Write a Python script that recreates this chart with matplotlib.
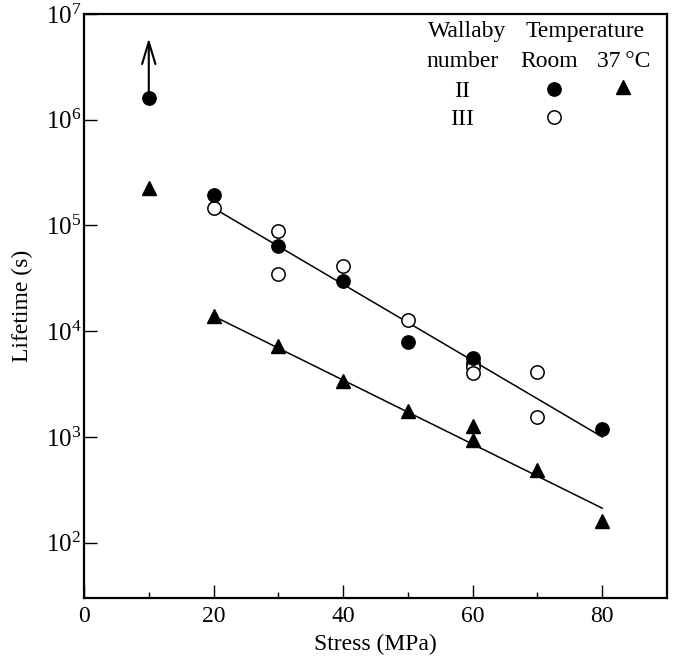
import matplotlib
matplotlib.use('Agg')
import matplotlib.pyplot as plt
import matplotlib.transforms as mtransforms
from matplotlib.ticker import FixedLocator, NullLocator

plt.rcParams['font.family'] = ['Liberation Serif', 'DejaVu Serif']
plt.rcParams['mathtext.fontset'] = 'custom'
plt.rcParams['mathtext.rm'] = 'Liberation Serif'
plt.rcParams['mathtext.it'] = 'Liberation Serif:italic'

# Wallaby II, room temperature (filled circles)
room_ii_stress = [10, 20, 30, 40, 50, 60, 80]
room_ii_life = [1.6e6, 1.94e5, 6.4e4, 3.0e4, 7.9e3, 5.6e3, 1.2e3]

# Wallaby III, room temperature (open circles)
room_iii_stress = [20, 30, 30, 40, 50, 60, 60, 60, 70, 70]
room_iii_life = [1.46e5, 8.9e4, 3.5e4, 4.1e4, 1.27e4, 5.0e3, 4.6e3, 4.0e3, 4.1e3, 1.54e3]

# Wallaby II, 37 C (triangles)
warm_stress = [10, 20, 30, 40, 50, 60, 60, 70, 80]
warm_life = [2.26e5, 1.39e4, 7.2e3, 3.4e3, 1.75e3, 1.26e3, 933, 485, 160]

# trend lines (end points)
fit_stress = [20, 80]
fit_room = [1.46e5, 1.0e3]
fit_warm = [1.39e4, 2.12e2]

# run-out specimen that did not fail
runout_stress = 10
runout_life = [1.6e6, 5.9e6]

x_ticks = [0, 20, 40, 60, 80]
x_minor = [10, 30, 50, 70]
y_exponents = [2, 3, 4, 5, 6, 7]

fs = 17

fig = plt.figure(figsize=(6.73, 6.59), dpi=100)
ax = fig.add_axes([0.1248, 0.0926, 0.8663, 0.8862])

ax.set_yscale('log')
ax.set_xlim(0, 90)
ax.set_ylim(30, 1e7)

ax.plot(fit_stress, fit_room, color='black', lw=1.1)
ax.plot(fit_stress, fit_warm, color='black', lw=1.1)

ms = 9.6
ax.plot(room_iii_stress, room_iii_life, 'o', ms=ms, mfc='white', mec='black', mew=1.1, ls='none')
ax.plot(room_ii_stress, room_ii_life, 'o', ms=ms, mfc='black', mec='black', ls='none')
ax.plot(warm_stress, warm_life, '^', ms=ms, mfc='black', mec='black', ls='none')

ax.annotate('', xy=(runout_stress, runout_life[1]), xytext=(runout_stress, runout_life[0]),
            arrowprops=dict(arrowstyle='->,head_length=0.8,head_width=0.24',
                            color='black', lw=1.5, mutation_scale=20,
                            shrinkA=0, shrinkB=0))

# axes styling
for s in ax.spines.values():
    s.set_linewidth(1.6)
ax.xaxis.set_major_locator(FixedLocator(x_ticks))
ax.xaxis.set_minor_locator(FixedLocator(x_minor))
ax.yaxis.set_major_locator(FixedLocator([10.0 ** e for e in y_exponents]))
ax.yaxis.set_minor_locator(NullLocator())
ax.set_yticklabels([])
ax.tick_params(axis='x', which='major', direction='in', length=9.5, width=1.0,
               labelsize=fs, pad=6, top=False)
ax.tick_params(axis='x', which='minor', direction='in', length=4.5, width=1.0, top=False)
ax.tick_params(axis='y', which='major', direction='in', length=9.5, width=1.0, right=False)

# decade labels: the "10" sits centred on the tick, exponent raised above it
ylab_tr = mtransforms.blended_transform_factory(ax.transAxes, ax.transData) + \
    mtransforms.ScaledTranslation(-2 / 72, -7 / 72, fig.dpi_scale_trans)
for e in y_exponents:
    ax.text(0, 10.0 ** e, r'$10^{%d}$' % e, transform=ylab_tr,
            ha='right', va='baseline', fontsize=fs + 1)

ax.set_xlabel('Stress (MPa)', fontsize=fs, labelpad=5)
ax.set_ylabel('Lifetime (s)', fontsize=fs)
ax.yaxis.set_label_coords(-0.088, 0.5)

# key in the upper right corner
tr = ax.transAxes
ax.text(0.657, 0.961, 'Wallaby', transform=tr, ha='center', va='baseline', fontsize=fs)
ax.text(0.859, 0.961, 'Temperature', transform=tr, ha='center', va='baseline', fontsize=fs)
ax.text(0.650, 0.909, 'number', transform=tr, ha='center', va='baseline', fontsize=fs)
ax.text(0.798, 0.909, 'Room', transform=tr, ha='center', va='baseline', fontsize=fs)
ax.text(0.925, 0.909, '37\u2009\u00b0C', transform=tr, ha='center', va='baseline', fontsize=fs)
ax.text(0.648, 0.872, 'II', transform=tr, ha='center', va='center_baseline', fontsize=fs)
ax.text(0.648, 0.824, 'III', transform=tr, ha='center', va='center_baseline', fontsize=fs)
ax.plot([0.806], [0.872], 'o', ms=ms, mfc='black', mec='black', transform=tr)
ax.plot([0.925], [0.875], '^', ms=ms, mfc='black', mec='black', transform=tr)
ax.plot([0.806], [0.824], 'o', ms=ms, mfc='white', mec='black', mew=1.1, transform=tr)

fig.savefig('out.png', dpi=100)
